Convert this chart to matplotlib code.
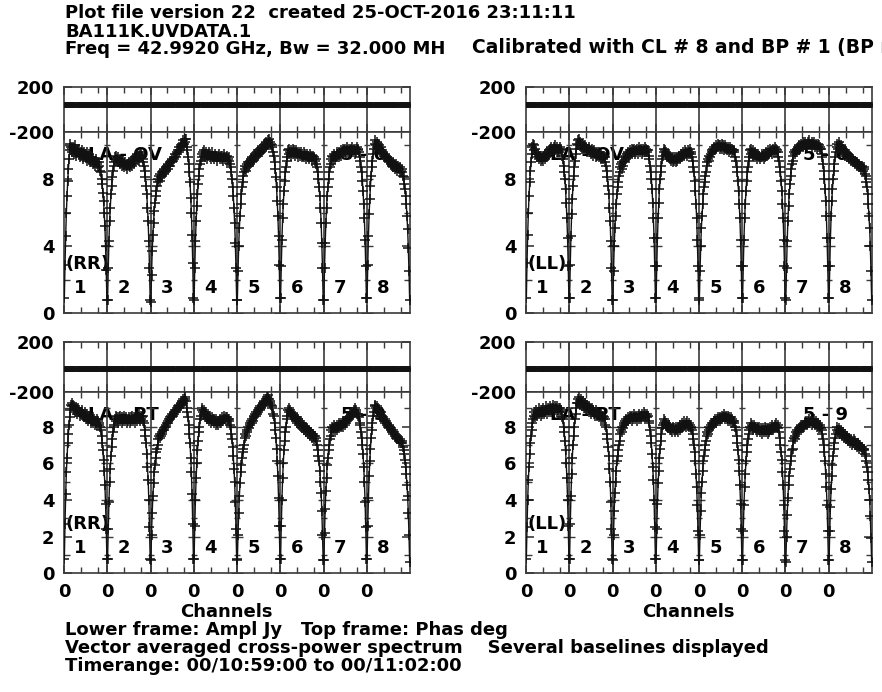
import numpy as np
import matplotlib
matplotlib.use("Agg")
import matplotlib.pyplot as plt

W, H = 882, 692
N_IF = 8
N_CHAN = 64

# Amplitudes in units of 0.1 Jy, one list of 64 channels per IF
amp_laov_rr = [
    [9, 29, 46, 60, 70, 79, 86, 92, 97, 101, 99, 98, 96, 99, 95, 97, 100, 94, 98, 96, 97, 95, 98, 93, 96, 94, 97, 95, 92, 96, 94, 95, 93, 96, 91, 94, 92, 95, 90, 93, 91, 93, 89, 92, 90, 91, 88, 92, 89, 90, 87, 90, 88, 85, 84, 80, 77, 72, 67, 60, 52, 40, 26, 8],
    [8, 27, 43, 55, 63, 71, 76, 81, 85, 88, 90, 93, 91, 94, 92, 90, 93, 91, 92, 89, 91, 90, 88, 91, 89, 87, 90, 88, 89, 86, 89, 88, 90, 87, 89, 91, 88, 90, 92, 89, 93, 91, 94, 92, 95, 93, 91, 94, 96, 93, 95, 94, 92, 90, 88, 85, 81, 76, 71, 63, 55, 43, 27, 8],
    [7, 23, 37, 47, 54, 61, 66, 70, 73, 76, 78, 80, 82, 79, 83, 81, 84, 82, 85, 83, 86, 84, 87, 85, 88, 86, 89, 88, 90, 88, 91, 90, 92, 91, 93, 92, 95, 93, 96, 95, 97, 96, 99, 97, 100, 99, 101, 100, 103, 101, 104, 102, 104, 99, 97, 93, 89, 84, 78, 69, 60, 47, 30, 9],
    [8, 27, 43, 55, 64, 71, 77, 82, 86, 89, 91, 95, 93, 96, 94, 97, 93, 95, 96, 92, 95, 94, 96, 93, 95, 92, 94, 96, 93, 94, 92, 95, 93, 94, 91, 94, 93, 95, 92, 93, 94, 92, 94, 91, 93, 95, 92, 93, 91, 94, 92, 93, 91, 89, 87, 84, 80, 75, 70, 63, 54, 42, 27, 8],
    [8, 25, 40, 51, 58, 65, 71, 75, 78, 82, 84, 86, 88, 85, 89, 87, 90, 88, 91, 89, 92, 90, 93, 91, 94, 92, 95, 93, 94, 96, 94, 97, 95, 96, 98, 96, 99, 97, 98, 100, 98, 101, 99, 102, 100, 103, 101, 104, 102, 100, 101, 99, 100, 96, 94, 90, 86, 81, 75, 67, 58, 46, 29, 9],
    [9, 28, 44, 57, 65, 73, 79, 84, 87, 91, 93, 97, 95, 98, 96, 97, 94, 96, 98, 95, 97, 96, 94, 97, 95, 96, 93, 96, 95, 94, 96, 93, 95, 94, 96, 93, 95, 92, 94, 95, 93, 94, 92, 95, 93, 94, 91, 93, 94, 92, 93, 91, 92, 89, 87, 84, 80, 75, 70, 63, 54, 42, 27, 8],
    [8, 27, 42, 54, 63, 70, 75, 80, 84, 87, 89, 92, 94, 91, 93, 95, 92, 94, 93, 96, 94, 95, 93, 96, 95, 97, 94, 96, 98, 95, 97, 96, 98, 95, 97, 99, 96, 98, 97, 95, 98, 97, 99, 96, 98, 97, 95, 98, 96, 99, 97, 98, 96, 93, 91, 87, 84, 79, 73, 65, 57, 44, 28, 9],
    [9, 29, 46, 59, 68, 76, 82, 87, 91, 95, 98, 101, 103, 100, 102, 99, 101, 98, 100, 97, 99, 96, 97, 95, 96, 94, 95, 93, 94, 92, 93, 91, 92, 90, 91, 89, 91, 88, 90, 87, 89, 88, 86, 89, 87, 85, 88, 86, 84, 87, 85, 86, 84, 82, 81, 77, 74, 70, 65, 58, 50, 39, 25, 8],
]

amp_laov_ll = [
    [9, 30, 47, 60, 70, 78, 85, 90, 95, 99, 101, 100, 97, 98, 95, 96, 93, 95, 92, 94, 93, 91, 94, 92, 93, 91, 94, 92, 95, 93, 94, 96, 94, 97, 95, 98, 96, 99, 97, 98, 96, 99, 97, 100, 98, 96, 99, 97, 98, 96, 99, 97, 98, 94, 92, 88, 84, 80, 74, 66, 57, 45, 28, 9],
    [9, 29, 46, 59, 68, 76, 82, 87, 91, 95, 98, 101, 103, 100, 104, 101, 102, 99, 101, 98, 100, 99, 97, 100, 98, 99, 96, 98, 97, 99, 96, 97, 95, 98, 96, 94, 97, 95, 96, 93, 96, 94, 95, 93, 96, 94, 92, 95, 93, 94, 92, 94, 93, 90, 88, 85, 81, 76, 71, 63, 55, 43, 27, 8],
    [8, 25, 40, 51, 58, 65, 71, 75, 78, 82, 84, 87, 89, 86, 90, 88, 91, 93, 90, 94, 92, 95, 93, 96, 94, 97, 95, 96, 98, 95, 97, 96, 98, 95, 97, 96, 98, 95, 97, 99, 96, 98, 97, 95, 98, 96, 97, 99, 96, 98, 97, 96, 97, 94, 92, 88, 84, 80, 74, 66, 57, 45, 28, 9],
    [9, 28, 45, 57, 66, 74, 80, 84, 88, 92, 94, 98, 96, 97, 95, 96, 94, 95, 93, 94, 92, 93, 91, 93, 92, 90, 93, 91, 92, 90, 93, 91, 93, 92, 94, 92, 93, 95, 93, 94, 96, 94, 95, 97, 95, 96, 94, 97, 95, 96, 98, 95, 96, 93, 91, 87, 84, 79, 73, 65, 57, 44, 28, 9],
    [8, 25, 40, 51, 58, 65, 71, 75, 78, 82, 84, 88, 90, 92, 91, 94, 93, 95, 97, 96, 98, 97, 99, 98, 100, 98, 99, 101, 99, 100, 98, 100, 99, 101, 98, 100, 99, 97, 100, 98, 99, 97, 99, 98, 96, 99, 97, 98, 96, 98, 97, 96, 97, 93, 91, 87, 84, 79, 73, 65, 57, 44, 28, 9],
    [9, 28, 44, 57, 65, 73, 79, 84, 87, 91, 93, 97, 95, 98, 96, 94, 97, 95, 96, 93, 95, 94, 92, 95, 93, 94, 92, 93, 95, 93, 94, 92, 95, 93, 94, 96, 94, 95, 97, 95, 96, 98, 96, 97, 95, 98, 96, 97, 99, 96, 98, 97, 96, 93, 91, 87, 84, 79, 73, 65, 57, 44, 28, 9],
    [8, 27, 43, 55, 64, 71, 77, 82, 86, 89, 91, 94, 96, 95, 97, 96, 98, 97, 99, 97, 100, 98, 101, 99, 100, 102, 99, 101, 100, 102, 100, 101, 99, 102, 100, 103, 101, 100, 102, 99, 101, 100, 102, 99, 101, 100, 98, 101, 99, 100, 98, 99, 98, 95, 93, 89, 85, 80, 74, 67, 58, 45, 28, 9],
    [9, 28, 45, 58, 67, 74, 80, 85, 89, 93, 96, 99, 101, 98, 100, 102, 99, 100, 97, 99, 96, 98, 95, 97, 94, 96, 95, 93, 95, 92, 94, 93, 91, 93, 92, 90, 92, 91, 89, 91, 90, 88, 90, 89, 87, 89, 88, 86, 88, 87, 85, 87, 86, 83, 82, 78, 75, 71, 65, 58, 51, 40, 25, 8],
]

amp_lapt_rr = [
    [8, 27, 43, 55, 63, 71, 76, 81, 85, 89, 92, 93, 91, 92, 89, 91, 88, 90, 89, 87, 90, 88, 89, 86, 88, 87, 89, 86, 87, 85, 88, 86, 84, 87, 85, 83, 86, 84, 85, 82, 84, 83, 85, 82, 84, 81, 83, 82, 84, 81, 83, 82, 81, 80, 78, 75, 71, 67, 62, 56, 48, 38, 24, 8],
    [8, 24, 39, 50, 57, 64, 69, 73, 77, 80, 81, 84, 86, 83, 85, 84, 82, 85, 83, 86, 84, 82, 85, 83, 84, 86, 83, 85, 82, 84, 83, 85, 84, 82, 85, 83, 86, 84, 83, 85, 82, 84, 86, 83, 85, 84, 87, 85, 83, 86, 84, 85, 86, 83, 82, 78, 75, 71, 65, 58, 51, 40, 25, 8],
    [7, 21, 33, 42, 49, 55, 59, 63, 66, 68, 70, 73, 75, 74, 76, 75, 77, 76, 78, 79, 78, 80, 81, 80, 82, 83, 82, 84, 85, 84, 86, 85, 87, 86, 88, 87, 89, 88, 90, 89, 91, 90, 92, 91, 93, 92, 94, 93, 95, 94, 96, 95, 94, 90, 88, 85, 81, 76, 71, 63, 55, 43, 27, 8],
    [8, 26, 40, 52, 60, 67, 72, 77, 80, 84, 86, 89, 90, 88, 89, 87, 88, 85, 87, 84, 86, 85, 83, 86, 84, 82, 85, 83, 84, 82, 84, 83, 81, 84, 82, 83, 81, 83, 82, 84, 82, 83, 85, 83, 84, 86, 84, 85, 83, 85, 84, 83, 84, 81, 80, 76, 73, 69, 64, 57, 50, 39, 24, 8],
    [7, 21, 33, 42, 49, 55, 59, 63, 66, 68, 70, 74, 76, 75, 78, 77, 80, 79, 82, 81, 83, 82, 84, 83, 86, 85, 87, 86, 88, 87, 89, 88, 90, 89, 91, 90, 92, 91, 93, 92, 94, 93, 95, 94, 96, 95, 97, 95, 94, 93, 92, 91, 90, 87, 86, 82, 78, 74, 68, 61, 53, 41, 26, 8],
    [8, 26, 40, 52, 60, 67, 72, 77, 80, 84, 86, 89, 90, 88, 89, 87, 88, 86, 87, 85, 86, 84, 85, 83, 85, 82, 84, 81, 83, 82, 80, 82, 79, 81, 80, 78, 80, 79, 77, 79, 78, 76, 78, 77, 75, 77, 76, 74, 76, 75, 73, 75, 74, 72, 70, 67, 64, 61, 56, 50, 44, 34, 21, 7],
    [7, 22, 35, 45, 52, 59, 63, 67, 70, 73, 75, 78, 80, 77, 79, 81, 78, 80, 79, 81, 78, 80, 82, 79, 81, 80, 82, 81, 83, 80, 82, 81, 83, 82, 84, 83, 85, 84, 86, 85, 87, 86, 88, 87, 89, 88, 90, 88, 89, 87, 86, 87, 85, 82, 81, 77, 74, 70, 65, 58, 50, 39, 25, 8],
    [8, 26, 41, 53, 61, 68, 74, 78, 82, 86, 88, 91, 92, 90, 91, 89, 90, 88, 89, 86, 88, 85, 86, 84, 85, 83, 84, 82, 83, 81, 82, 80, 81, 79, 80, 78, 79, 77, 78, 76, 77, 75, 76, 74, 75, 73, 74, 72, 73, 72, 71, 72, 71, 69, 67, 65, 62, 58, 54, 48, 42, 33, 21, 6],
]

amp_lapt_ll = [
    [8, 25, 40, 51, 58, 65, 71, 75, 78, 82, 84, 86, 88, 85, 87, 89, 86, 88, 87, 90, 88, 86, 89, 87, 88, 90, 87, 89, 88, 91, 89, 87, 90, 88, 89, 91, 88, 90, 89, 92, 90, 88, 91, 89, 90, 88, 91, 89, 90, 88, 90, 89, 88, 85, 84, 80, 77, 72, 67, 60, 52, 40, 26, 8],
    [8, 27, 42, 54, 63, 70, 75, 80, 84, 87, 90, 93, 95, 93, 96, 94, 92, 95, 93, 91, 94, 92, 90, 93, 91, 89, 92, 90, 91, 88, 90, 89, 87, 90, 88, 89, 87, 88, 86, 89, 87, 86, 88, 85, 87, 86, 84, 87, 85, 86, 84, 85, 84, 81, 80, 76, 73, 69, 64, 57, 50, 39, 24, 8],
    [7, 21, 34, 44, 50, 56, 61, 64, 67, 70, 72, 76, 78, 77, 80, 79, 82, 81, 83, 82, 84, 83, 85, 83, 84, 86, 84, 85, 83, 86, 84, 85, 87, 84, 86, 85, 83, 86, 84, 87, 85, 86, 84, 87, 85, 86, 88, 85, 87, 86, 85, 87, 86, 83, 82, 78, 75, 71, 65, 58, 51, 40, 25, 8],
    [8, 24, 38, 49, 56, 63, 68, 72, 76, 79, 81, 84, 82, 83, 81, 82, 80, 81, 79, 81, 78, 80, 78, 79, 77, 80, 78, 79, 77, 78, 80, 78, 79, 77, 80, 78, 81, 79, 80, 82, 80, 81, 83, 81, 82, 80, 83, 81, 82, 80, 81, 79, 80, 78, 76, 73, 70, 66, 61, 54, 47, 37, 23, 7],
    [7, 21, 34, 44, 50, 56, 61, 64, 67, 70, 72, 75, 77, 76, 78, 80, 79, 81, 80, 82, 81, 83, 82, 84, 83, 82, 84, 83, 85, 84, 83, 85, 84, 86, 84, 85, 87, 85, 84, 86, 85, 84, 86, 83, 85, 84, 83, 85, 82, 84, 83, 82, 83, 80, 78, 75, 71, 67, 62, 56, 48, 38, 24, 7],
    [7, 23, 37, 47, 54, 61, 66, 70, 73, 76, 78, 80, 82, 79, 81, 80, 78, 81, 79, 80, 78, 80, 77, 79, 78, 80, 77, 79, 78, 76, 79, 77, 78, 80, 77, 79, 78, 76, 79, 77, 78, 80, 78, 79, 81, 78, 80, 79, 81, 80, 82, 80, 81, 79, 77, 74, 70, 66, 62, 55, 48, 37, 23, 7],
    [6, 20, 32, 41, 48, 53, 57, 61, 64, 67, 68, 72, 74, 73, 75, 77, 76, 78, 77, 79, 78, 80, 79, 81, 80, 79, 81, 80, 82, 81, 83, 82, 81, 83, 82, 84, 82, 83, 81, 83, 82, 84, 82, 81, 83, 82, 80, 82, 81, 79, 81, 80, 79, 78, 76, 73, 70, 66, 61, 54, 47, 37, 23, 7],
    [7, 23, 36, 46, 53, 59, 64, 68, 71, 74, 76, 78, 80, 77, 79, 78, 76, 78, 77, 75, 77, 76, 74, 76, 75, 73, 75, 74, 72, 74, 73, 71, 73, 72, 70, 72, 71, 73, 70, 72, 70, 71, 69, 71, 70, 68, 70, 69, 67, 69, 68, 67, 68, 65, 64, 61, 58, 55, 51, 46, 40, 31, 19, 6],
]

# Mean phase (deg) of each IF
phase_laov_rr = [40, 39, 41, 40, 39, 41, 40, 39]
phase_laov_ll = [41, 40, 39, 41, 40, 39, 41, 40]
phase_lapt_rr = [-18, -17, -19, -18, -17, -19, -18, -17]
phase_lapt_ll = [-20, -21, -19, -20, -21, -20, -19, -21]

if_names = ["1", "2", "3", "4", "5", "6", "7", "8"]
title_lines = [
    "Plot file version 22  created 25-OCT-2016 23:11:11",
    "BA111K.UVDATA.1",
]
freq_text = "Freq = 42.9920 GHz, Bw = 32.000 MH"
calib_text = "Calibrated with CL # 8 and BP # 1 (BP mode"
footer_lines = [
    "Lower frame: Ampl Jy   Top frame: Phas deg",
    "Vector averaged cross-power spectrum    Several baselines displayed",
    "Timerange: 00/10:59:00 to 00/11:02:00",
]

INK = "#111111"
FRAME = "#3a3a3a"
FS = 13

plt.rcParams["font.family"] = ["DejaVu Sans"]
plt.rcParams["font.weight"] = "bold"

fig = plt.figure(figsize=(W / 100, H / 100), dpi=100)

PANEL_W = 346
AMP_H = 181.5


def frame_style(ax):
    n_tot = N_IF * N_CHAN
    ax.set_xlim(0, n_tot)
    bounds = [k * N_CHAN for k in range(N_IF)]
    minors = [k * N_CHAN + c for k in range(N_IF) for c in (25, 50)]
    ax.set_xticks(bounds)
    ax.set_xticks(minors, minor=True)
    for k in range(1, N_IF):
        ax.axvline(k * N_CHAN, color=FRAME, lw=1.2, zorder=2)
    ax.tick_params(axis="both", which="both", direction="in", top=True, right=True,
                   color=FRAME, labelsize=FS)
    ax.tick_params(which="major", length=6, width=1.2)
    ax.tick_params(which="minor", length=4, width=1.0)
    for s in ax.spines.values():
        s.set_color(FRAME)
        s.set_linewidth(1.2)


def draw_panel(x0, y_top, phase_h, amp, phase, amp_top, amp_major, amp_minor,
               pol, baseline, pair, show_xlabels):
    axp = fig.add_axes([x0 / W, 1 - (y_top + phase_h) / H, PANEL_W / W, phase_h / H])
    axa = fig.add_axes([x0 / W, 1 - (y_top + phase_h + AMP_H) / H, PANEL_W / W, AMP_H / H])
    frame_style(axp)
    frame_style(axa)

    for k in range(N_IF):
        vals = np.asarray(amp[k], dtype=float) / 10.0
        x = k * N_CHAN + np.arange(len(vals)) + 0.5
        axa.plot(x, vals, color=INK, lw=1.0, marker="+", ms=7, mew=1.1, zorder=3)
        axp.plot(x, np.full(len(vals), phase[k]), color=INK, lw=1.0, marker="+",
                 ms=5, mew=1.1, zorder=3)

    axp.set_ylim(-200, 200)
    axp.set_yticks([-200, 200])
    axp.set_yticklabels(["-200", "200"])
    axp.set_xticklabels([])

    axa.set_ylim(0, amp_top)
    axa.set_yticks(amp_major)
    axa.set_yticks(amp_minor, minor=True)
    axa.set_yticklabels([f"{v:g}" for v in amp_major])
    if show_xlabels:
        axa.set_xticklabels(["0"] * N_IF)
    else:
        axa.set_xticklabels([])
    axa.tick_params(axis="x", pad=7)
    axa.tick_params(axis="y", pad=7)
    axp.tick_params(axis="y", pad=7)

    # tick marks on each IF sub-frame edge
    for k in range(1, N_IF):
        b = k * N_CHAN
        axa.plot([b] * len(amp_major), amp_major, ls="none", marker="_", ms=8,
                 mew=1.0, color=FRAME, zorder=2)
        axa.plot([b] * len(amp_minor), amp_minor, ls="none", marker="_", ms=5,
                 mew=1.0, color=FRAME, zorder=2)

    axa.text(0.003, 0.27, f"({pol})", transform=axa.transAxes, fontsize=FS,
             ha="left", va="center", zorder=1)
    for k, name in enumerate(if_names):
        axa.text(k * N_CHAN + 15, 0.14 * amp_top, name, fontsize=FS, ha="left",
                 va="center", zorder=1)
    axa.text(0.07, 0.873, baseline, transform=axa.transAxes, fontsize=FS,
             ha="left", va="center", zorder=1)
    axa.text(0.93, 0.873, pair, transform=axa.transAxes, fontsize=FS,
             ha="right", va="center", zorder=1)

    if show_xlabels:
        fig.text((x0 + PANEL_W / 2 - 11) / W, 1 - 617 / H, "Channels", fontsize=FS,
                 ha="center", va="baseline")


LEFT_X, RIGHT_X = 64, 526

draw_panel(LEFT_X, 87, 45, amp_laov_rr, phase_laov_rr, 10.8, [0, 4, 8], [2, 6, 10],
           "RR", "LA - OV", "5 - 6", False)
draw_panel(RIGHT_X, 87, 45, amp_laov_ll, phase_laov_ll, 10.8, [0, 4, 8], [2, 6, 10],
           "LL", "LA - OV", "5 - 6", False)
draw_panel(LEFT_X, 341.7, 50, amp_lapt_rr, phase_lapt_rr, 9.9, [0, 2, 4, 6, 8],
           [1, 3, 5, 7, 9], "RR", "LA - PT", "5 - 9", True)
draw_panel(RIGHT_X, 341.7, 50, amp_lapt_ll, phase_lapt_ll, 9.9, [0, 2, 4, 6, 8],
           [1, 3, 5, 7, 9], "LL", "LA - PT", "5 - 9", True)

fig.text(65 / W, 1 - 4 / H, "\n".join(title_lines), fontsize=FS, ha="left",
         va="top", linespacing=1.04)
fig.text(65 / W, 1 - 53.5 / H, freq_text, fontsize=FS, ha="left", va="baseline")
fig.text(472 / W, 1 - 53.5 / H, calib_text, fontsize=13.5, ha="left", va="baseline")
fig.text(65 / W, 1 - 621 / H, "\n".join(footer_lines), fontsize=FS, ha="left",
         va="top", linespacing=1.0)

fig.savefig("out.png", dpi=100)
